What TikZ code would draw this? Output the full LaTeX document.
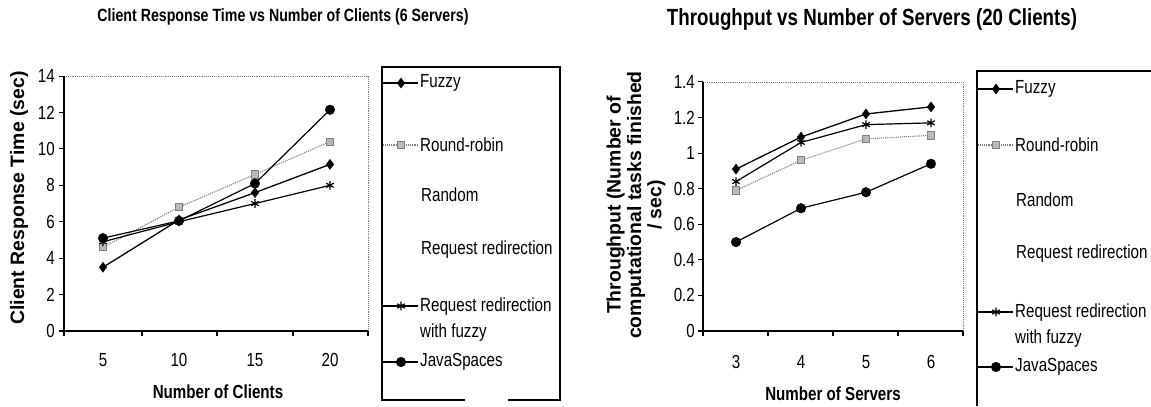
\documentclass[tikz,border=0pt]{standalone}
\usepackage{fontspec}
\setmainfont{Liberation Sans}
\newfontfamily\nar[FakeStretch=0.8]{Liberation Sans}
\newfontfamily\narT[FakeStretch=0.8]{Liberation Sans}
\usetikzlibrary{plotmarks}
\begin{document}
\begin{tikzpicture}[x=1bp,y=-1bp,
  axisline/.style={black, line width=1.3bp},
  framedot/.style={gray, densely dotted, line width=0.9bp},
  legbox/.style={black, line width=1.1bp},
  tick/.style={black, line width=1.1bp},
  ticklab/.style={font=\nar\fontsize{19}{22}\selectfont, inner sep=0pt},
  legtext/.style={font=\nar\fontsize{19}{26}\selectfont, inner sep=0pt, align=left},
  axtitle/.style={font=\nar\bfseries\fontsize{19}{22}\selectfont, inner sep=0pt},
  ytitle/.style={font=\bfseries\fontsize{19.5}{20.5}\selectfont, inner sep=0pt, rotate=90, align=center},
  lFz/.style={black, line width=1.3bp},
  lRr/.style={gray, densely dotted, line width=1.1bp},
  lRf/.style={black, line width=1.2bp},
  lJs/.style={black, line width=1.2bp},
  mFz/.style={only marks, mark=diamond*, mark size=5bp, mark options={fill=black, draw=black, solid}},
  mRr/.style={only marks, mark=square*, mark size=3.6bp, mark options={fill=gray!55, draw=gray, solid, line width=0.8bp}},
  mRf/.style={only marks, mark=asterisk, mark size=4.3bp, mark options={black, solid, line width=1.2bp}},
  mJs/.style={only marks, mark=*, mark size=4.8bp, mark options={fill=black, draw=black, solid}}
]
\useasboundingbox (0,0) rectangle (1151,406);

% ---------------- Titles ----------------
\node[font=\narT\bfseries\fontsize{17.8}{19}\selectfont, inner sep=0pt] (t1) at (283,17) {Client Response Time vs Number of Clients (6 Servers)};
\node[font=\narT\bfseries\fontsize{23.5}{25}\selectfont, inner sep=0pt] (t2) at (872,19) {Throughput vs Number of Servers (20 Clients)};

% ---------------- Left chart ----------------
\coordinate (La) at (64,76);
\coordinate (Lb) at (64,331);
\coordinate (Lc) at (368,331);
\coordinate (Ld) at (368,76);
\draw[framedot] (La) -- (Ld) -- (Lc);
\draw[axisline] (La) -- (Lb) -- (Lc);
\foreach \v in {0,2,...,14} {
  \draw[tick] (59,{331-\v*18.21}) -- (64,{331-\v*18.21});
  \node[ticklab, anchor=east] (ly\v) at (55,{331-\v*18.21}) {\v};
}
\foreach \x in {64,142,217,293,368} \draw[tick] (\x,331) -- (\x,336);
\node[ticklab] (lx1) at (103,360) {5};
\node[ticklab] (lx2) at (179,360) {10};
\node[ticklab] (lx3) at (255,360) {15};
\node[ticklab] (lx4) at (330,360) {20};
\node[axtitle] (lxt) at (218,392) {Number of Clients};
\node[ytitle] (lyt) at (19,198) {Client Response Time (sec)};

% data
\draw[lRr] plot coordinates {(103,{331-4.6*18.21}) (179,{331-6.8*18.21}) (255,{331-8.6*18.21}) (330,{331-10.4*18.21})};
\draw[lRf] plot coordinates {(103,{331-4.9*18.21}) (179,{331-6.0*18.21}) (255,{331-7.0*18.21}) (330,{331-8.0*18.21})};
\draw[lFz] plot coordinates {(103,{331-3.5*18.21}) (179,{331-6.1*18.21}) (255,{331-7.6*18.21}) (330,{331-9.15*18.21})};
\draw[lJs] plot coordinates {(103,{331-5.1*18.21}) (179,{331-6.05*18.21}) (255,{331-8.1*18.21}) (330,{331-12.15*18.21})};
\path[mRr] plot coordinates {(103,{331-4.6*18.21}) (179,{331-6.8*18.21}) (255,{331-8.6*18.21}) (330,{331-10.4*18.21})};
\path[mRf] plot coordinates {(103,{331-4.9*18.21}) (179,{331-6.0*18.21}) (255,{331-7.0*18.21}) (330,{331-8.0*18.21})};
\path[mFz] plot coordinates {(103,{331-3.5*18.21}) (179,{331-6.1*18.21}) (255,{331-7.6*18.21}) (330,{331-9.15*18.21})};
\path[mJs] plot coordinates {(103,{331-5.1*18.21}) (179,{331-6.05*18.21}) (255,{331-8.1*18.21}) (330,{331-12.15*18.21})};

% legend left
\coordinate (LLa) at (465,400);
\coordinate (LLb) at (382,400);
\coordinate (LLc) at (382,67);
\coordinate (LLd) at (560,67);
\coordinate (LLe) at (560,400);
\coordinate (LLf) at (508,400);
\draw[legbox] (LLa) -- (LLb) -- (LLc) -- (LLd) -- (LLe) -- (LLf);
\draw[lFz] (383,83) -- (418,83); \path[mFz] plot coordinates {(401,83)};
\node[legtext, anchor=west] (lg1) at (420,83) {Fuzzy};
\draw[lRr] (383,145) -- (418,145); \path[mRr] plot coordinates {(401,145)};
\node[legtext, anchor=west] (lg2) at (420,145) {Round-robin};
\node[legtext, anchor=west] (lg3) at (421,195) {Random};
\node[legtext, anchor=west] (lg4) at (421,250) {Request redirection};
\draw[lRf] (383,306) -- (418,306); \path[mRf] plot coordinates {(401,306)};
\node[legtext, anchor=west] (lg5) at (420,320) {Request redirection\\with fuzzy};
\draw[lJs] (383,362) -- (418,362); \path[mJs] plot coordinates {(401,362)};
\node[legtext, anchor=west] (lg6) at (420,362) {JavaSpaces};

% ---------------- Right chart ----------------
\coordinate (Ra) at (703,82);
\coordinate (Rb) at (703,331);
\coordinate (Rc) at (963,331);
\coordinate (Rd) at (963,82);
\draw[framedot] (Ra) -- (Rd) -- (Rc);
\draw[axisline] (Ra) -- (Rb) -- (Rc);
\foreach \v/\t in {0/0,0.2/0.2,0.4/0.4,0.6/0.6,0.8/0.8,1/1,1.2/1.2,1.4/1.4} {
  \draw[tick] (698,{331-\v*177.9}) -- (703,{331-\v*177.9});
  \node[ticklab, anchor=east] (ry\t) at (695,{331-\v*177.9}) {\t};
}
\foreach \x in {703,768,833,898,963} \draw[tick] (\x,331) -- (\x,336);
\node[ticklab] (rx1) at (736,362) {3};
\node[ticklab] (rx2) at (801,362) {4};
\node[ticklab] (rx3) at (866,362) {5};
\node[ticklab] (rx4) at (931,362) {6};
\node[axtitle] (rxt) at (833,394) {Number of Servers};
\node[ytitle] (ryt) at (636,205) {Throughput (Number of\\computational tasks finished\\/ sec)};

% data
\draw[lRr] plot coordinates {(736,{331-0.79*177.9}) (801,{331-0.96*177.9}) (866,{331-1.08*177.9}) (931,{331-1.10*177.9})};
\draw[lRf] plot coordinates {(736,{331-0.84*177.9}) (801,{331-1.06*177.9}) (866,{331-1.16*177.9}) (931,{331-1.17*177.9})};
\draw[lFz] plot coordinates {(736,{331-0.91*177.9}) (801,{331-1.09*177.9}) (866,{331-1.22*177.9}) (931,{331-1.26*177.9})};
\draw[lJs] plot coordinates {(736,{331-0.50*177.9}) (801,{331-0.69*177.9}) (866,{331-0.78*177.9}) (931,{331-0.94*177.9})};
\path[mRr] plot coordinates {(736,{331-0.79*177.9}) (801,{331-0.96*177.9}) (866,{331-1.08*177.9}) (931,{331-1.10*177.9})};
\path[mRf] plot coordinates {(736,{331-0.84*177.9}) (801,{331-1.06*177.9}) (866,{331-1.16*177.9}) (931,{331-1.17*177.9})};
\path[mFz] plot coordinates {(736,{331-0.91*177.9}) (801,{331-1.09*177.9}) (866,{331-1.22*177.9}) (931,{331-1.26*177.9})};
\path[mJs] plot coordinates {(736,{331-0.50*177.9}) (801,{331-0.69*177.9}) (866,{331-0.78*177.9}) (931,{331-0.94*177.9})};

% legend right
\coordinate (RLa) at (977,406);
\coordinate (RLb) at (977,71);
\coordinate (RLc) at (1151,71);
\draw[legbox] (RLa) -- (RLb) -- (RLc);
\draw[lFz] (978,89) -- (1013,89); \path[mFz] plot coordinates {(996,89)};
\node[legtext, anchor=west] (rg1) at (1015,89) {Fuzzy};
\draw[lRr] (978,145) -- (1013,145); \path[mRr] plot coordinates {(996,145)};
\node[legtext, anchor=west] (rg2) at (1015,145) {Round-robin};
\node[legtext, anchor=west] (rg3) at (1016,200) {Random};
\node[legtext, anchor=west] (rg4) at (1016,254) {Request redirection};
\draw[lRf] (978,312) -- (1013,312); \path[mRf] plot coordinates {(996,312)};
\node[legtext, anchor=west] (rg5) at (1015,326) {Request redirection\\with fuzzy};
\draw[lJs] (978,367) -- (1013,367); \path[mJs] plot coordinates {(996,367)};
\node[legtext, anchor=west] (rg6) at (1015,367) {JavaSpaces};
\end{tikzpicture}
\end{document}
